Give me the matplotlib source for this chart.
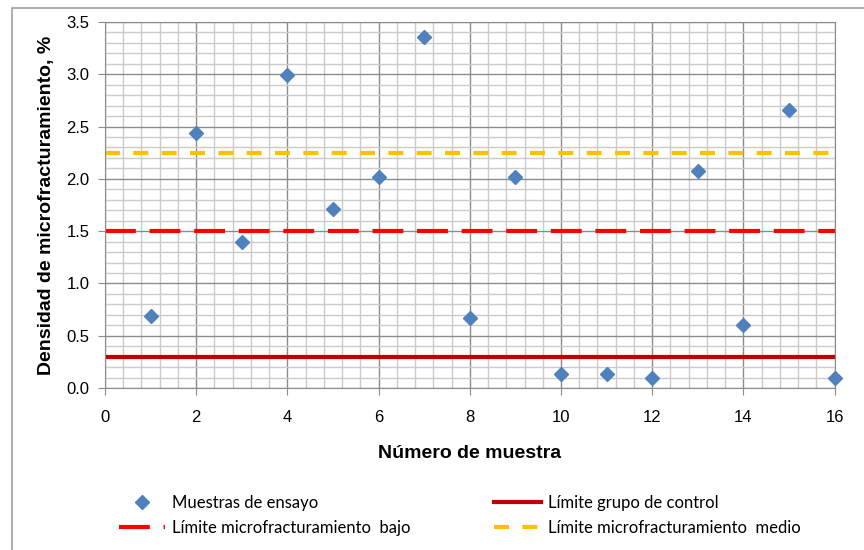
import numpy as np
import matplotlib.pyplot as plt
from matplotlib.patches import Rectangle
from matplotlib.ticker import MultipleLocator

# data
muestra = [1, 2, 3, 4, 5, 6, 7, 8, 9, 10, 11, 12, 13, 14, 15, 16]
densidad = [0.69, 2.44, 1.40, 2.99, 1.71, 2.02, 3.36, 0.67, 2.02, 0.13, 0.13, 0.10, 2.08, 0.60, 2.66, 0.10]
lim_control = 0.3
lim_bajo = 1.5
lim_medio = 2.25

fig = plt.figure(figsize=(8.64, 5.5), dpi=100)
ax = fig.add_axes([0.1215, 0.2945, 0.8445, 0.6655])

# frame around the whole chart area
fig.patches.append(Rectangle((0.014, -0.02), 1.2, 1.005, transform=fig.transFigure,
                             fill=False, edgecolor='#a0a0a0', linewidth=1.2))

ax.set_xlim(0, 16)
ax.set_ylim(0, 3.5)
ax.xaxis.set_major_locator(MultipleLocator(2))
ax.xaxis.set_minor_locator(MultipleLocator(0.4))
ax.yaxis.set_major_locator(MultipleLocator(0.5))
ax.yaxis.set_minor_locator(MultipleLocator(0.1))
ax.grid(which='major', color='#8c8c8c', linewidth=1.0)
ax.grid(which='minor', color='#cbcbcb', linewidth=1.0)
ax.set_axisbelow(True)
ax.tick_params(which='minor', length=0)
ax.tick_params(which='major', length=5, color='#8c8c8c', labelsize=12, pad=6)
ax.yaxis.set_major_formatter(plt.FormatStrFormatter('%.1f'))
for lab in ax.get_xticklabels() + ax.get_yticklabels():
    lab.set_fontfamily('Liberation Sans')
ax.tick_params(axis='x', pad=11)
for s in ax.spines.values():
    s.set_color('#8c8c8c')

l_ctrl = ax.axhline(lim_control, color='#c00000', linewidth=3, label='Límite grupo de control')
l_bajo = ax.axhline(lim_bajo, color='#ff0000', linewidth=3, dashes=(7.4, 3.3), label='Límite microfracturamiento  bajo')
l_medio = ax.axhline(lim_medio, color='#ffc000', linewidth=3, dashes=(3.6, 3.2), label='Límite microfracturamiento  medio')
pts, = ax.plot(muestra, densidad, linestyle='none', marker='D', markersize=7,
               color='#4f81bd', label='Muestras de ensayo', clip_on=False, zorder=5)

ax.set_xlabel('Número de muestra', fontsize=14, fontweight='bold',
              fontfamily='Liberation Sans', labelpad=14)
ax.set_ylabel('Densidad de microfracturamiento, %', fontsize=14, fontweight='bold',
              fontfamily='Liberation Sans', labelpad=8)

leg = fig.legend([pts, l_bajo, l_ctrl, l_medio],
                 [pts.get_label(), l_bajo.get_label(), l_ctrl.get_label(), l_medio.get_label()],
                 ncol=2, loc='lower left', bbox_to_anchor=(0.12, -0.001), frameon=False,
                 prop={'family': 'Lato', 'size': 12}, columnspacing=5.0, handlelength=2.8,
                 handletextpad=0.42, labelspacing=0.5)

fig.savefig('out.png')
